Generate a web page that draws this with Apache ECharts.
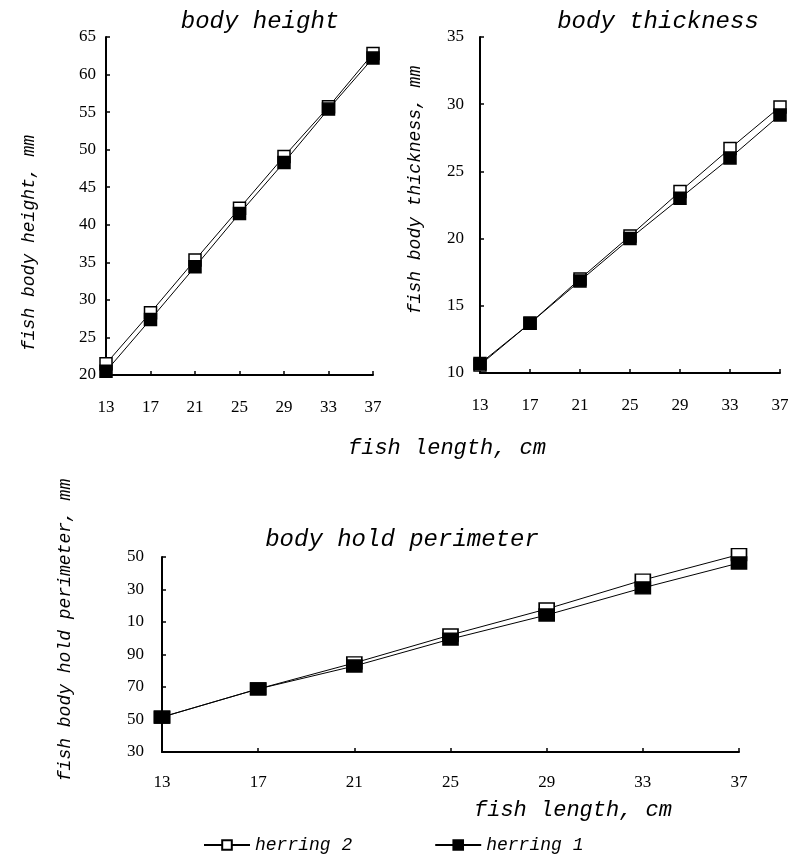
<!DOCTYPE html>
<html>
<head>
<meta charset="utf-8">
<script src="https://cdn.jsdelivr.net/npm/echarts@6/dist/echarts.min.js"></script>
<style>html,body{margin:0;padding:0;background:#fff}#c{width:799px;height:854px}</style>
</head>
<body>
<div id="c"></div>
<script>
const xCats = ['13','17','21','25','29','33','37'];
const heightH2 = [21.5, 28.3, 35.3, 42.2, 49.1, 55.7, 62.8];
const heightH1 = [20.5, 27.4, 34.4, 41.5, 48.3, 55.4, 62.2];
const thickH2 = [10.6, 13.7, 17.0, 20.2, 23.5, 26.7, 29.8];
const thickH1 = [10.7, 13.7, 16.85, 20.0, 23.0, 26.0, 29.2];
const perimH2 = [51.5, 68.8, 84.8, 102, 118, 135.8, 151.5];
const perimH1 = [51.5, 68.8, 82.9, 99.5, 114.3, 131, 146.3];
const perimTickLabels = ['30','50','70','90','10','30','50'];
const seriesNames = ['herring 2', 'herring 1'];

const italic = 'italic 400 {s}px "Liberation Mono"';
function f(s){ return italic.replace('{s}', s); }
const tickFont = {color:'#000', fontFamily:'Liberation Serif', fontSize:17};
const axisLine = {show:true, lineStyle:{color:'#000', width:2}};

function xAxis(gi, margin){
  return {type:'category', gridIndex:gi, data:xCats, boundaryGap:false,
    axisLine:axisLine, axisTick:{show:true, inside:true, length:4, lineStyle:{color:'#000', width:1.5}},
    axisLabel:Object.assign({margin:margin}, tickFont), splitLine:{show:false}};
}
function yAxis(gi, min, max, interval, margin, fmt){
  const lab = Object.assign({margin:margin}, tickFont);
  if (fmt) lab.formatter = fmt;
  return {type:'value', gridIndex:gi, min:min, max:max, interval:interval,
    axisLine:axisLine, axisTick:{show:true, inside:true, length:4, lineStyle:{color:'#000', width:1.5}},
    axisLabel:lab, splitLine:{show:false}};
}
function ser(name, data, gi, filled, size){
  return {type:'line', name:name, data:data, xAxisIndex:gi, yAxisIndex:gi,
    symbol:'rect', symbolSize:size, clip:false, animation:false,
    lineStyle:{color:'#000', width:1},
    itemStyle:{color: filled ? '#000' : '#fff', borderColor:'#000', borderWidth:1.5}};
}
function txt(x, y, text, size, rot){
  return {type:'text', x:x, y:y, rotation: rot ? Math.PI/2 : 0,
    style:{text:text, font:f(size), fill:'#000', align:'center', verticalAlign:'middle'}};
}

const chart = echarts.init(document.getElementById('c'), null, {renderer:'canvas'});
chart.setOption({
  backgroundColor:'#fff',
  animation:false,
  grid:[
    {left:106, right:426, top:37, bottom:479},
    {left:480, right:19, top:37, bottom:481},
    {left:162, right:60, top:557, bottom:102}
  ],
  xAxis:[xAxis(0, 24), xAxis(1, 24), xAxis(2, 22)],
  yAxis:[
    yAxis(0, 20, 65, 5, 10),
    yAxis(1, 10, 35, 5, 16),
    yAxis(2, 30, 150, 20, 18, function(v){ return perimTickLabels[Math.round((v-30)/20)]; })
  ],
  legend:{
    data:seriesNames, left:198, top:831, itemWidth:46, itemHeight:12, itemGap:82,
    textStyle:{color:'#000', fontFamily:'Liberation Mono', fontStyle:'italic', fontSize:18}
  },
  series:[
    ser(seriesNames[0], heightH2, 0, false, 12),
    ser(seriesNames[1], heightH1, 0, true, 12),
    ser(seriesNames[0], thickH2, 1, false, 12),
    ser(seriesNames[1], thickH1, 1, true, 12),
    ser(seriesNames[0], perimH2, 2, false, [15, 12]),
    ser(seriesNames[1], perimH1, 2, true, [15, 12])
  ],
  graphic:[
    txt(260, 22, 'body height', 24),
    txt(658, 22, 'body thickness', 24),
    txt(402, 540, 'body hold perimeter', 24),
    txt(447, 448, 'fish length, cm', 22),
    txt(573, 810, 'fish length, cm', 22),
    txt(29, 243, 'fish body height, mm', 18, true),
    txt(415, 190, 'fish body thickness, mm', 18, true),
    txt(65, 630, 'fish body hold perimeter, mm', 18, true)
  ]
});
</script>
</body>
</html>
